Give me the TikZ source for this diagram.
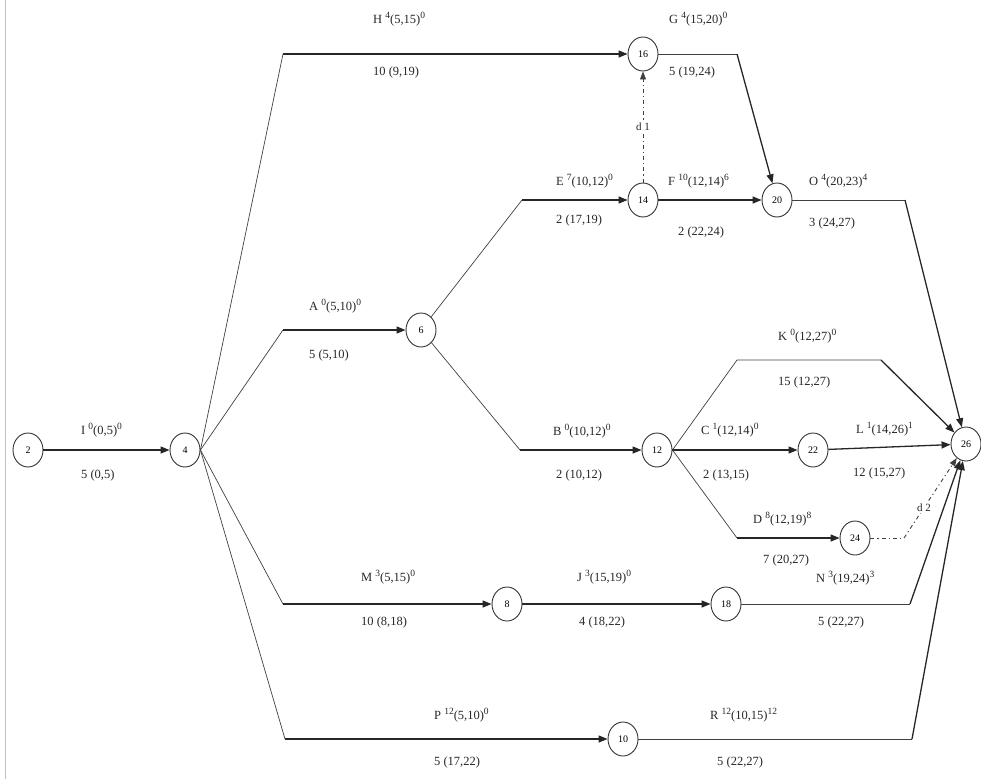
\documentclass[tikz,border=0pt]{standalone}
\usepackage{fontspec}
\setmainfont{Liberation Serif}
\usetikzlibrary{arrows.meta,shapes.geometric}
\newcommand{\hoch}[1]{\raisebox{0.42em}{\fontsize{9.5}{9.5}\selectfont #1}}
\newcommand{\act}[4]{#1 \hoch{#2}(#3)\hoch{#4}}

\begin{document}
\begin{tikzpicture}[x=1pt, y=-1pt,
    ev/.style={ellipse, draw=black!80, line width=0.9pt, minimum width=30pt, minimum height=34pt, inner sep=0pt, font=\fontsize{10}{10}\selectfont},
    seg/.style={draw=black!75, line width=0.7pt},
    arr/.style={draw=black!85, line width=1.3pt, -{Triangle[length=9pt,width=7pt]}},
    dum/.style={draw=black!75, line width=0.9pt, dash pattern=on 4pt off 3pt on 1.2pt off 3pt},
    lab/.style={anchor=west, font=\fontsize{12.5}{13}\selectfont, text=black!85, inner sep=1pt}]
    \useasboundingbox (0,0) rectangle (981,779);
    % 左の枠線
    \draw[black!25, line width=1pt] (5,0) -- (5,779);

    % ノードの定義
    \node[ev] (n2) at (28,450) {2};
    \node[ev] (n4) at (185,450) {4};
    \node[ev] (n6) at (421,330) {6};
    \node[ev] (n8) at (507,604) {8};
    \node[ev] (n10) at (623,739) {10};
    \node[ev] (n12) at (657,450) {12};
    \node[ev] (n14) at (643,200) {14};
    \node[ev] (n16) at (643,54) {16};
    \node[ev] (n18) at (726,604) {18};
    \node[ev] (n20) at (777,200) {20};
    \node[ev] (n22) at (813,450) {22};
    \node[ev] (n24) at (855,538) {24};
    \node[ev] (n26) at (966,444) {26};

    % 折れ点
    \coordinate (cH) at (283,54);
    \coordinate (cA) at (283,330);
    \coordinate (cM) at (283,604);
    \coordinate (cP) at (285,739);
    \coordinate (cE) at (522,200);
    \coordinate (cB) at (520,450);
    \coordinate (cG) at (737,54);
    \coordinate (cO) at (905,200);
    \coordinate (cK1) at (737,360);
    \coordinate (cK2) at (881,360);
    \coordinate (cD) at (737,538);
    \coordinate (cd2) at (904,538);
    \coordinate (cN) at (910,604);
    \coordinate (cR) at (912,739);

    % エッジの定義(作業)
    \draw[arr] (n2) -- (n4);
    \draw[seg] (n4.east) -- (cH); \draw[arr] (cH) -- (n16);
    \draw[seg] (n4.east) -- (cA); \draw[arr] (cA) -- (n6);
    \draw[seg] (n4.east) -- (cM); \draw[arr] (cM) -- (n8);
    \draw[seg] (n4.east) -- (cP); \draw[arr] (cP) -- (n10);
    \draw[seg] (n6) -- (cE); \draw[arr] (cE) -- (n14);
    \draw[seg] (n6) -- (cB); \draw[arr] (cB) -- (n12);
    \draw[seg] (n16) -- (cG); \draw[arr] (cG) -- (n20);
    \draw[arr] (n14) -- (n20);
    \draw[seg] (n20) -- (cO); \draw[arr] (cO) -- (n26);
    \draw[seg] (n12.east) -- (cK1) -- (cK2); \draw[arr] (cK2) -- (n26);
    \draw[arr] (n12) -- (n22);
    \draw[arr] (n22) -- (n26);
    \draw[seg] (n12.east) -- (cD); \draw[arr] (cD) -- (n24);
    \draw[arr] (n8) -- (n18);
    \draw[seg] (n18) -- (cN); \draw[arr] (cN) -- (n26);
    \draw[seg] (n10) -- (cR); \draw[arr] (cR) -- (n26);

    % ダミー作業
    \draw[dum, -{Triangle[length=8pt,width=6pt]}] (n14) -- node[fill=white, inner sep=2pt, font=\fontsize{11}{11}\selectfont, text=black!85] (d1) {d 1} (n16);
    \draw[dum] (n24) -- (cd2);
    \draw[dum, -{Triangle[length=8pt,width=6pt]}] (cd2) -- node[pos=0.38, fill=white, inner sep=2pt, font=\fontsize{11}{11}\selectfont, text=black!85] (d2) {d 2} (n26);

    % ラベル(上:作業名とフロート,下:所要時間と期間)
    \node[lab] (tI) at (80,430) {\act{I}{0}{0,5}{0}};
    \node[lab] (bI) at (80,475) {5 (0,5)};
    \node[lab] (tH) at (372,19) {\act{H}{4}{5,15}{0}};
    \node[lab] (bH) at (372,72) {10 (9,19)};
    \node[lab] (tG) at (668,19) {\act{G}{4}{15,20}{0}};
    \node[lab] (bG) at (668,72) {5 (19,24)};
    \node[lab] (tE) at (555,181) {\act{E}{7}{10,12}{0}};
    \node[lab] (bE) at (555,220) {2 (17,19)};
    \node[lab] (tF) at (667,181) {\act{F}{10}{12,14}{6}};
    \node[lab] (bF) at (677,232) {2 (22,24)};
    \node[lab] (tO) at (808,181) {\act{O}{4}{20,23}{4}};
    \node[lab] (bO) at (808,223) {3 (24,27)};
    \node[lab] (tA) at (308,306) {\act{A}{0}{5,10}{0}};
    \node[lab] (bA) at (308,355) {5 (5,10)};
    \node[lab] (tB) at (552,431) {\act{B}{0}{10,12}{0}};
    \node[lab] (bB) at (555,475) {2 (10,12)};
    \node[lab] (tK) at (777,336) {\act{K}{0}{12,27}{0}};
    \node[lab] (bK) at (777,382) {15 (12,27)};
    \node[lab] (tC) at (700,430) {\act{C}{1}{12,14}{0}};
    \node[lab] (bC) at (702,475) {2 (13,15)};
    \node[lab] (tL) at (855,429) {\act{L}{1}{14,26}{1}};
    \node[lab] (bL) at (852,473) {12 (15,27)};
    \node[lab] (tD) at (752,519) {\act{D}{8}{12,19}{8}};
    \node[lab] (bD) at (762,560) {7 (20,27)};
    \node[lab] (tM) at (360,577) {\act{M}{3}{5,15}{0}};
    \node[lab] (bM) at (360,622) {10 (8,18)};
    \node[lab] (tJ) at (576,577) {\act{J}{3}{15,19}{0}};
    \node[lab] (bJ) at (578,622) {4 (18,22)};
    \node[lab] (tN) at (815,578) {\act{N}{3}{19,24}{3}};
    \node[lab] (bN) at (817,622) {5 (22,27)};
    \node[lab] (tP) at (433,715) {\act{P}{12}{5,10}{0}};
    \node[lab] (bP) at (433,762) {5 (17,22)};
    \node[lab] (tR) at (709,715) {\act{R}{12}{10,15}{12}};
    \node[lab] (bR) at (716,762) {5 (22,27)};
\end{tikzpicture}
\end{document}
